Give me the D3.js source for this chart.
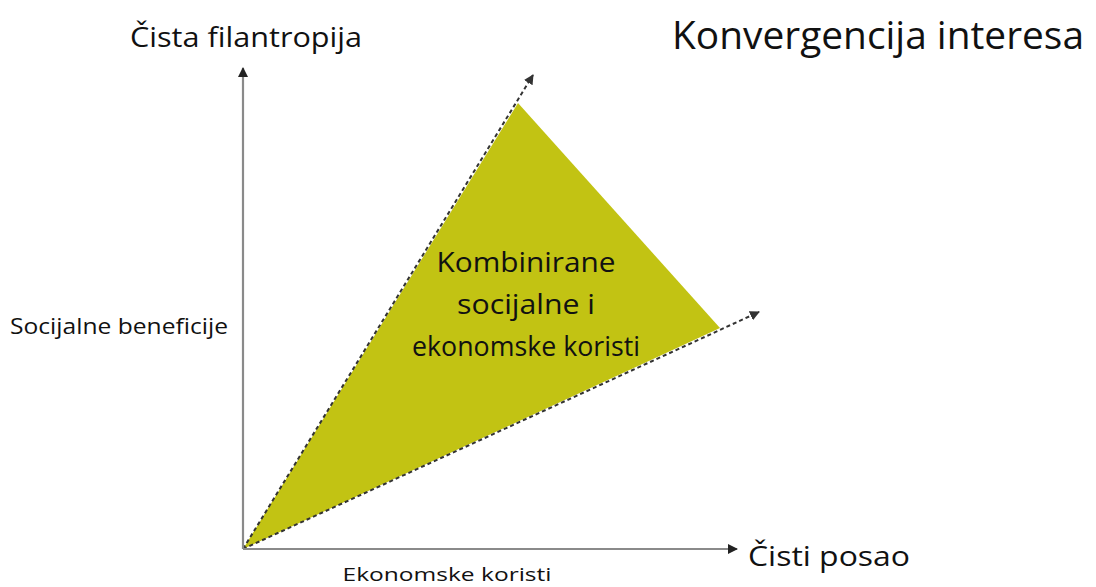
<!DOCTYPE html>
<html>
<head>
<meta charset="utf-8">
<script src="https://cdn.jsdelivr.net/npm/d3@7"></script>
<style>
    body { margin: 0; background: #fff; }
    text { font-family: "Open Sans", "Noto Sans", sans-serif; fill: #111; }
</style>
</head>
<body>
<svg id="chart" width="1096" height="587"></svg>
<script>
"use strict";

// triangle of combined benefits, in axis units (0..100)
const regionCorners = [
    { x: 0, y: 0 },
    { x: 55, y: 89.2 },
    { x: 95.4, y: 44.2 }
];
// dashed rays leaving the origin, end points of the arrows
const rayTips = [
    { x: 58, y: 94.8 },
    { x: 103.2, y: 47.4 }
];
const axisEnds = { x: 98.8, y: 96.2 };
const regionLabel = ['Kombinirane', 'socijalne i', 'ekonomske koristi'];
const title = 'Konvergencija interesa';
const yTopLabel = 'Čista filantropija';
const yMidLabel = 'Socijalne beneficije';
const xEndLabel = 'Čisti posao';
const xBottomLabel = 'Ekonomske koristi';

const svg = d3.select('#chart');
const x = d3.scaleLinear().domain([0, 100]).range([243, 743]);
const y = d3.scaleLinear().domain([0, 100]).range([549, 49]);

const defs = svg.append('defs');
const marker = (id, color) => defs.append('marker')
    .attr('id', id)
    .attr('viewBox', '0 0 10 10')
    .attr('refX', 9).attr('refY', 5)
    .attr('markerWidth', 10).attr('markerHeight', 10)
    .attr('markerUnits', 'userSpaceOnUse')
    .attr('orient', 'auto')
    .append('path')
    .attr('d', 'M0,0L10,5L0,10z')
    .attr('fill', color);
marker('arrowAxis', '#222');
marker('arrowRay', '#333');

// filled region
svg.append('path')
    .datum(regionCorners)
    .attr('d', d3.line().x(d => x(d.x)).y(d => y(d.y)).curve(d3.curveLinearClosed))
    .attr('fill', '#c2c313');

// dashed rays
svg.selectAll('.ray')
    .data(rayTips)
    .enter()
    .append('line')
    .attr('x1', x(0)).attr('y1', y(0))
    .attr('x2', d => x(d.x)).attr('y2', d => y(d.y))
    .attr('stroke', '#333')
    .attr('stroke-width', 2)
    .attr('stroke-dasharray', '4,3')
    .attr('marker-end', 'url(#arrowRay)');

// axes
svg.append('line')
    .attr('x1', x(0)).attr('y1', y(0))
    .attr('x2', x(0)).attr('y2', y(axisEnds.y))
    .attr('stroke', '#8a8a8a').attr('stroke-width', 2.2)
    .attr('marker-end', 'url(#arrowAxis)');
svg.append('line')
    .attr('x1', x(0)).attr('y1', y(0))
    .attr('x2', x(axisEnds.x)).attr('y2', y(0))
    .attr('stroke', '#8a8a8a').attr('stroke-width', 2.2)
    .attr('marker-end', 'url(#arrowAxis)');

// texts, stretched to the widths of the reference lettering
const label = (txt, px, py, size, width, anchor) => svg.append('text')
    .attr('x', px).attr('y', py)
    .attr('text-anchor', anchor || 'start')
    .attr('textLength', width)
    .attr('lengthAdjust', 'spacingAndGlyphs')
    .style('font-size', `${size}px`)
    .text(txt);

label(title, 672, 49, 38, 412);
label(yTopLabel, 130, 47, 28, 232);
label(yMidLabel, 10, 334, 22, 218);
label(xEndLabel, 748, 566, 28, 162);
label(xBottomLabel, 447, 581, 19, 209, 'middle');

const lineW = [179, 138, 228];
svg.append('g')
    .selectAll('text')
    .data(regionLabel)
    .enter()
    .append('text')
    .attr('x', 526)
    .attr('y', (d, i) => 272 + i * 42)
    .attr('text-anchor', 'middle')
    .attr('textLength', (d, i) => lineW[i])
    .attr('lengthAdjust', 'spacingAndGlyphs')
    .style('font-size', '27px')
    .text(d => d);
</script>
</body>
</html>
